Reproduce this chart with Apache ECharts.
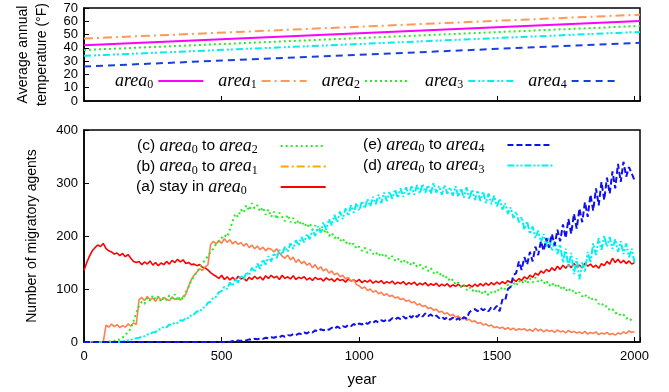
<!DOCTYPE html>
<html><head><meta charset="utf-8">
<script src="https://cdn.jsdelivr.net/npm/echarts@6/dist/echarts.min.js"></script>
<style>html,body{margin:0;padding:0;background:#fff}#c{width:669px;height:392px}</style>
</head><body><div id="c"></div>
<script>
// ---- data ----
const tempYears = [0, 2020];
const tempArea0 = [42, 60.3];
const tempArea1 = [47, 65];
const tempArea2 = [38.4, 56.5];
const tempArea3 = [34, 52];
const tempArea4 = [26, 43.8];

// years 0..2000, every 10 years
const years = [];
for (let y = 0; y <= 2000; y += 10) years.push(y);

const stayArea0 = [
135,150,162,172,178,183,180,186,176,172,170,166,168,163,167,161,165,158,152,150,
152,146,151,147,153,145,150,144,149,146,152,147,154,150,156,151,155,148,150,146,
147,144,146,141,140,136,131,127,124,120,126,118,123,117,122,116,124,119,121,115,
122,118,124,119,123,117,125,120,126,121,124,118,126,120,123,119,125,118,122,120,
123,117,121,116,122,118,120,115,121,117,119,114,120,116,118,113,119,115,117,114,
118,112,116,113,117,111,115,112,116,110,114,111,115,109,113,110,114,108,112,109,
113,107,111,108,112,106,110,107,111,105,109,106,110,104,108,105,109,104,107,105,
108,104,109,105,110,106,111,107,112,108,113,109,114,110,116,112,118,114,120,116,
123,119,126,122,130,126,134,130,137,133,140,135,143,137,145,139,146,140,148,142,
145,140,149,143,147,141,145,139,148,144,152,147,158,150,156,149,154,148,153,147,
150];
const toArea1 = [
0,0,0,0,0,0,0,0,32,28,34,29,33,27,31,28,34,30,36,33,
80,84,78,86,80,83,77,85,79,84,81,78,85,80,83,79,86,90,105,118,
126,132,138,135,142,145,184,190,185,192,186,195,188,193,185,190,184,188,181,186,
178,183,176,181,174,179,172,177,175,170,176,168,162,158,164,155,160,150,156,148,
152,145,149,140,146,137,142,134,138,130,134,127,130,123,126,119,122,114,118,108,
106,101,104,97,100,94,97,91,94,88,91,86,88,83,85,80,82,77,79,74,
76,70,72,67,69,63,65,60,62,56,58,53,55,50,52,47,49,44,46,41,
43,38,40,35,37,32,34,30,32,27,29,26,28,24,27,23,26,22,25,23,
25,21,24,20,26,21,24,19,23,20,22,18,23,19,21,17,22,18,20,17,
19,16,20,15,18,16,19,14,17,15,18,14,16,13,17,15,19,16,21,18,
20];
const toArea2 = [
0,0,0,0,0,0,0,0,0,0,3,2,5,4,8,14,18,26,40,55,
68,76,72,84,78,88,80,86,76,84,79,88,82,90,78,86,80,94,104,116,
124,132,140,148,155,162,170,176,185,190,196,202,198,212,228,242,236,250,244,258,
248,262,252,258,246,254,240,250,236,246,232,244,236,228,240,226,234,222,230,220,
226,216,224,212,220,208,216,206,212,200,206,196,200,190,196,186,190,182,186,176,
180,172,178,168,174,166,170,162,168,160,164,156,162,154,158,150,156,148,152,144,
150,142,146,138,144,134,140,130,134,126,130,120,124,114,118,108,112,104,108,98,
104,96,100,92,98,90,96,88,94,92,100,96,104,100,108,104,112,106,116,110,
118,110,120,112,122,114,118,110,116,106,112,104,110,100,106,96,102,94,98,90,
94,86,90,82,86,78,80,72,74,66,68,60,62,54,56,50,52,44,46,40,
40];
const toArea3 = [
0,0,0,0,0,0,0,0,0,0,0,0,0,0,1,2,3,4,6,7,
8,10,11,14,15,18,19,23,25,29,28,33,32,37,36,41,40,46,45,51,
52,58,57,64,66,74,76,84,85,94,96,104,100,112,106,120,112,126,118,132,
126,140,132,148,138,156,146,162,152,168,158,174,165,180,170,186,176,192,182,198,
188,204,194,212,200,218,206,226,212,232,220,240,226,246,232,252,238,258,244,262,
248,266,252,270,256,274,260,278,262,282,266,284,270,288,272,290,274,292,276,294,
278,296,280,298,282,296,280,300,282,294,278,296,280,292,276,294,274,290,272,292,
270,288,268,286,266,284,262,280,260,276,256,270,250,262,242,254,234,246,226,236,
212,228,204,218,196,210,188,204,180,198,172,190,166,184,150,176,140,168,128,158,
118,150,132,170,150,186,164,196,174,200,180,198,176,194,170,190,166,186,160,176,
150];
const toArea4 = [
0,0,0,0,0,0,0,0,0,0,0,0,0,0,0,0,0,0,0,0,
0,0,0,0,0,0,0,0,0,0,0,0,0,0,0,0,0,0,0,0,
0,0,0,0,0,0,0,0,0,0,0,0,1,0,2,1,3,2,4,3,
5,4,6,5,7,6,8,7,9,8,10,9,12,10,13,12,15,13,16,15,
18,16,20,18,22,20,24,22,25,23,27,25,29,26,30,28,32,30,34,31,
35,33,37,34,38,36,40,37,41,39,43,40,45,42,46,43,48,44,50,46,
52,47,53,48,54,49,52,47,50,45,48,43,47,42,46,41,45,40,47,44,
56,60,62,58,64,60,63,58,66,62,68,58,80,78,100,104,126,130,152,136,
160,146,170,152,180,164,190,172,196,178,204,182,212,190,222,196,232,204,242,214,
252,226,264,236,278,248,290,258,302,268,310,280,322,290,336,302,340,312,330,318,
305];

const xTicks = [0, 500, 1000, 1500, 2000];

// ---- chart ----
const pair = (xs, vs) => xs.map((x, i) => [x, vs[i]]);
const chart = echarts.init(document.getElementById('c'), null, {renderer: 'canvas'});
const FONT = 'Liberation Sans';
const richText = {
  i: {fontFamily: 'Liberation Serif', fontStyle: 'italic', fontSize: 18, lineHeight: 20, verticalAlign: 'middle', color: '#000'},
  s: {fontFamily: 'Liberation Serif', fontSize: 12, lineHeight: 10, verticalAlign: 'bottom', color: '#000'},
  n: {fontFamily: FONT, fontSize: 15.5, lineHeight: 20, verticalAlign: 'middle', color: '#000'},
  p: {width: 18, lineHeight: 20},
  q: {width: 29, lineHeight: 20}
};
const topLabels = {area0: '{i|area}{s|0}', area1: '{i|area}{s|1}', area2: '{i|area}{s|2}', area3: '{i|area}{s|3}', area4: '{i|area}{s|4}'};
const botLabels = {
  a: '{n|(a) stay in }{i|area}{s|0}{q| }',
  b: '{n|(b) }{i|area}{s|0}{n| to }{i|area}{s|1}{p| }',
  c: '{n|(c) }{i|area}{s|0}{n| to }{i|area}{s|2}{p| }',
  d: '{n|(d) }{i|area}{s|0}{n| to }{i|area}{s|3}{p| }',
  e: '{n|(e) }{i|area}{s|0}{n| to }{i|area}{s|4}{p| }'
};
const axisCommon = {
  axisLine: {show: true, lineStyle: {color: '#000', width: 1.5}},
  axisTick: {show: true, inside: true, length: 5, lineStyle: {color: '#000', width: 1}},
  splitLine: {show: false},
  axisLabel: {color: '#000', fontFamily: FONT, fontSize: 13, margin: 6}
};
const tempColors = ['#ff00ff', '#ff9955', '#22ee22', '#00eeee', '#1a3fe0'];
const tempDash = ['solid', [9, 4, 2, 4], [2, 3], [7, 3, 2, 2, 2, 3], [7, 5]];
const tempData = [tempArea0, tempArea1, tempArea2, tempArea3, tempArea4];

const series = [];
tempData.forEach((d, k) => {
  series.push({
    name: 'area' + k, type: 'line', xAxisIndex: 0, yAxisIndex: 0, symbol: 'none',
    data: pair(tempYears, d), lineStyle: {color: tempColors[k], width: 2, type: tempDash[k]},
    itemStyle: {color: tempColors[k]}, silent: true, animation: false
  });
});
const bot = [
  {name: 'a', data: stayArea0, color: '#ff0000', type: 'solid', w: 1.6},
  {name: 'b', data: toArea1, color: '#ff7f50', type: 'solid', w: 1.6},
  {name: 'c', data: toArea2, color: '#22ee22', type: [2, 3], w: 2},
  {name: 'd', data: toArea3, color: '#00f0f0', type: [7, 2, 2, 2, 2, 2], w: 2},
  {name: 'e', data: toArea4, color: '#1010ee', type: [6, 3], w: 2}
];
bot.forEach(s => {
  series.push({
    name: s.name, type: 'line', xAxisIndex: 1, yAxisIndex: 1, symbol: 'none',
    data: pair(years, s.data), lineStyle: {color: s.color, width: s.w, type: s.type},
    itemStyle: {color: s.color}, silent: true, animation: false
  });
});

const legendBase = {
  orient: 'horizontal', align: 'right', itemWidth: 45, itemHeight: 12, selectedMode: false, padding: 0,
  itemStyle: {opacity: 0},
  textStyle: {rich: richText}
};

const option = {
  animation: false,
  backgroundColor: '#fff',
  grid: [
    {left: 84, top: 8, width: 556, height: 93, show: true, borderColor: '#000', borderWidth: 1.5, backgroundColor: 'transparent'},
    {left: 84, top: 130, width: 556, height: 212, show: true, borderColor: '#000', borderWidth: 1.5, backgroundColor: 'transparent'}
  ],
  xAxis: [
    Object.assign({}, axisCommon, {type: 'value', gridIndex: 0, min: 0, max: 2020, interval: 500, axisLabel: {show: false}}),
    Object.assign({}, axisCommon, {type: 'value', gridIndex: 1, min: 0, max: 2020, interval: 500,
      name: 'year', nameLocation: 'middle', nameGap: 30,
      nameTextStyle: {color: '#000', fontFamily: FONT, fontSize: 15},
      axisLabel: Object.assign({}, axisCommon.axisLabel, {margin: 8, formatter: v => xTicks.includes(v) ? String(v) : ''})})
  ],
  yAxis: [
    Object.assign({}, axisCommon, {type: 'value', gridIndex: 0, min: 0, max: 70, interval: 10,
      name: 'Average annual\ntemperature (°F)', nameLocation: 'middle', nameGap: 32, nameRotate: 90,
      nameTextStyle: {color: '#000', fontFamily: FONT, fontSize: 14, lineHeight: 19}}),
    Object.assign({}, axisCommon, {type: 'value', gridIndex: 1, min: 0, max: 400, interval: 100,
      name: 'Number of migratory agents', nameLocation: 'middle', nameGap: 45, nameRotate: 90,
      nameTextStyle: {color: '#000', fontFamily: FONT, fontSize: 14}})
  ],
  legend: [
    Object.assign({}, legendBase, {left: 115, top: 72, itemGap: 14,
      data: ['area0', 'area1', 'area2', 'area3', 'area4'],
      formatter: n => topLabels[n]}),
    Object.assign({}, legendBase, {orient: 'vertical', left: 136, top: 137, itemGap: 1.5,
      data: ['c', {name: 'b', lineStyle: {color: '#ffa500', type: [8, 3, 2, 3]}}, 'a'],
      formatter: n => botLabels[n]}),
    Object.assign({}, legendBase, {orient: 'vertical', left: 363, top: 136, itemGap: 1.5,
      data: ['e', 'd'],
      formatter: n => botLabels[n]})
  ],
  series: series
};
chart.setOption(option);
</script>
</body></html>
